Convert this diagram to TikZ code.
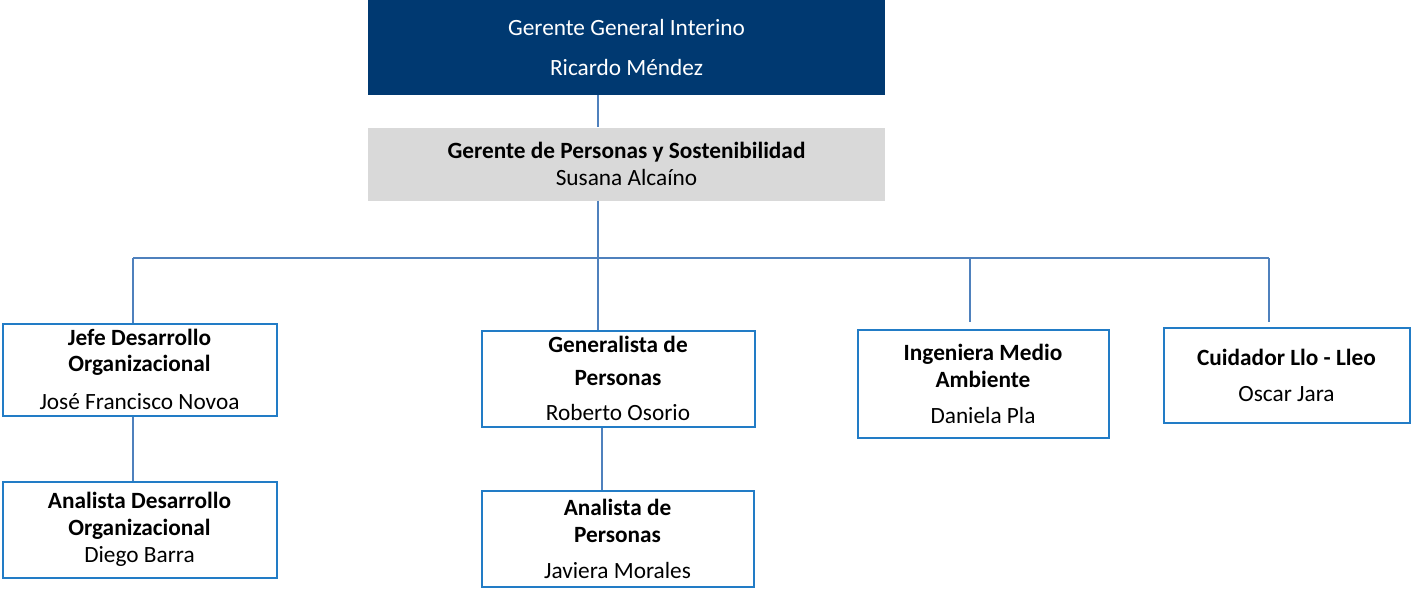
\documentclass[tikz,border=0pt]{standalone}
\usepackage{fontspec}
\setmainfont{Carlito}
\usepackage{xcolor}
\usetikzlibrary{positioning}
\usetikzlibrary{arrows}

\begin{document}
\begin{tikzpicture}[x=1pt, y=-1pt, font=\fontsize{23.3}{27}\selectfont]
			\definecolor{NAVY}{RGB}{0, 57, 113}
			\definecolor{GREY}{RGB}{217, 217, 217}
			\definecolor{EDGE}{RGB}{34, 124, 198}
			\definecolor{WIRE}{RGB}{79, 129, 189}
			\tikzset{post/.style={draw=EDGE, line width=2pt, inner sep=0pt, align=center, fill=white}}
			\useasboundingbox (0,0) rectangle (1412,591);
			\node[fill=NAVY, text=white, minimum width=517pt, minimum height=95pt, inner sep=0pt, align=center] (gg) at (626.5, 47.5) {Gerente General Interino\\[13pt]Ricardo Méndez};
			\node[fill=GREY, minimum width=517pt, minimum height=73pt, inner sep=0pt, align=center] (gps) at (626.5, 164.0) {\textbf{Gerente de Personas y Sostenibilidad}\\Susana Alcaíno};
			\node[post, minimum width=274pt, minimum height=92pt] (jdo) at (139.5, 369.5) {\textbf{Jefe Desarrollo}\\[-1pt]\textbf{Organizacional}\\[11pt]José Francisco Novoa};
			\node[post, minimum width=274pt, minimum height=96pt] (ado) at (139.5, 529.5) {\textbf{Analista Desarrollo}\\\textbf{Organizacional}\\Diego Barra};
			\node[post, minimum width=273pt, minimum height=96pt] (gdp) at (618.0, 378.5) {\textbf{Generalista de}\\[6pt]\textbf{Personas}\\[8pt]Roberto Osorio};
			\node[post, minimum width=272pt, minimum height=96pt] (adp) at (617.5, 538.5) {\textbf{Analista de}\\\textbf{Personas}\\[9pt]Javiera Morales};
			\node[post, minimum width=251pt, minimum height=108pt] (ima) at (983.0, 383.5) {\textbf{Ingeniera Medio}\\\textbf{Ambiente}\\[9pt]Daniela Pla};
			\node[post, minimum width=246pt, minimum height=95pt] (cll) at (1286.5, 375.0) {\textbf{Cuidador Llo - Lleo}\\[9pt]Oscar Jara};
			\coordinate (b1) at (133, 258);
			\coordinate (b2) at (598, 258);
			\coordinate (b3) at (970, 258);
			\coordinate (b4) at (1269, 258);
			\draw[-, line width=2pt, color=WIRE] (gg.south -| b2) to (gps.north -| b2);
			\draw[-, line width=2pt, color=WIRE] (gps.south -| b2) to (b2);
			\draw[-, line width=2pt, color=WIRE] (b1) to (b4);
			\draw[-, line width=2pt, color=WIRE] (b1) to (jdo.north -| b1);
			\draw[-, line width=2pt, color=WIRE] (b2) to (gdp.north -| b2);
			\draw[-, line width=2pt, color=WIRE, shorten >=7pt] (b3) to (ima.north -| b3);
			\draw[-, line width=2pt, color=WIRE, shorten >=5pt] (b4) to (cll.north -| b4);
			\draw[-, line width=2pt, color=WIRE] (jdo.south -| b1) to (ado.north -| b1);
			\draw[-, line width=2pt, color=WIRE] (gdp.south -| 602, 0) to (adp.north -| 602, 0);
\end{tikzpicture}
\end{document}
